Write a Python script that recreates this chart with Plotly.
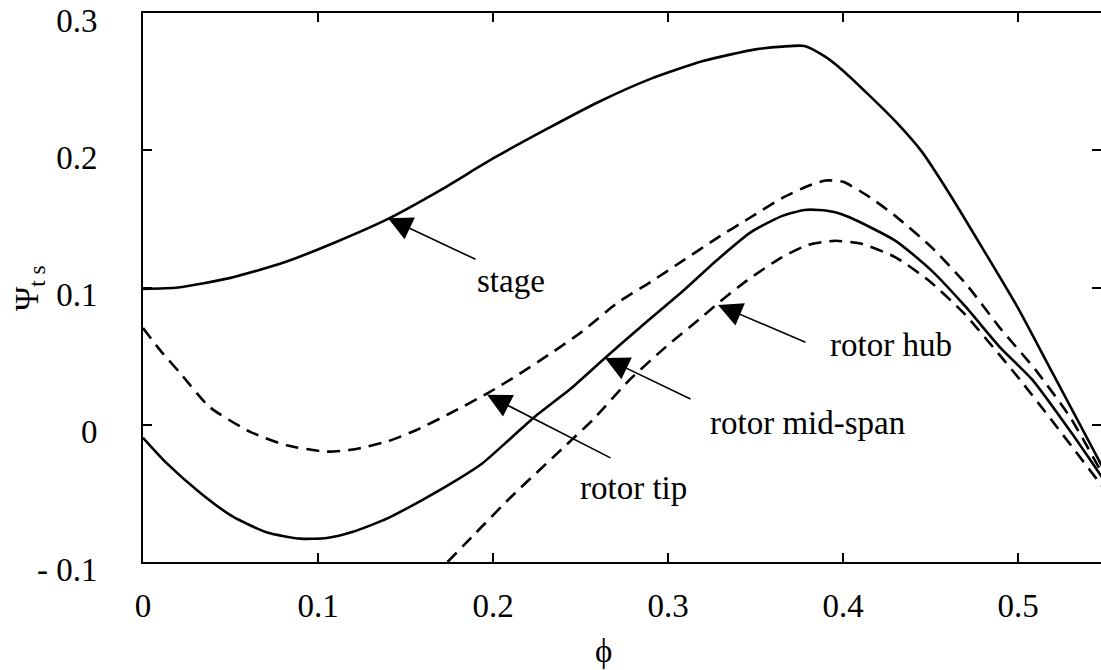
import plotly.graph_objects as go

# Stage and rotor total-to-static loading curves
phi_stage = [0, 0.02, 0.05, 0.08, 0.11, 0.14, 0.17, 0.20, 0.23, 0.26, 0.29, 0.32, 0.35,
             0.365, 0.378, 0.39, 0.40, 0.415, 0.43, 0.445, 0.46, 0.48, 0.50, 0.52, 0.55]
psi_stage = [0.099, 0.100, 0.107, 0.118, 0.133, 0.150, 0.171, 0.194, 0.215, 0.235, 0.252,
             0.265, 0.2735, 0.2755, 0.276, 0.268, 0.258, 0.240, 0.221, 0.199, 0.170, 0.128,
             0.085, 0.037, -0.035]

phi_tip = [0, 0.01, 0.021, 0.038, 0.061, 0.082, 0.105, 0.12, 0.14, 0.156, 0.175, 0.197,
           0.215, 0.233, 0.25, 0.271, 0.29, 0.309, 0.328, 0.347, 0.365, 0.38, 0.39, 0.40,
           0.415, 0.43, 0.45, 0.47, 0.49, 0.51, 0.53, 0.55]
psi_tip = [0.0705, 0.054, 0.038, 0.013, -0.005, -0.015, -0.0196, -0.018, -0.012, -0.004,
           0.008, 0.023, 0.037, 0.052, 0.067, 0.0887, 0.104, 0.12, 0.136, 0.151, 0.165,
           0.174, 0.178, 0.177, 0.166, 0.152, 0.13, 0.103, 0.07, 0.04, 0.005, -0.04]

phi_mid = [0, 0.0135, 0.0326, 0.0514, 0.071, 0.09, 0.105, 0.12, 0.14, 0.16, 0.177, 0.194,
           0.21, 0.223, 0.245, 0.264, 0.285, 0.309, 0.328, 0.347, 0.365, 0.378, 0.386,
           0.395, 0.404, 0.43, 0.45, 0.47, 0.49, 0.508, 0.53, 0.55]
psi_mid = [-0.0095, -0.028, -0.0495, -0.067, -0.0785, -0.083, -0.0825, -0.078, -0.068,
           -0.0545, -0.042, -0.028, -0.01, 0.005, 0.027, 0.0487, 0.072, 0.098, 0.12, 0.14,
           0.152, 0.1565, 0.1565, 0.155, 0.151, 0.134, 0.113, 0.086, 0.056, 0.033, -0.005,
           -0.042]

phi_hub = [0.174, 0.19, 0.21, 0.242, 0.257, 0.278, 0.299, 0.318, 0.329, 0.345, 0.365, 0.38,
           0.395, 0.41, 0.43, 0.45, 0.47, 0.49, 0.501, 0.52, 0.55]
psi_hub = [-0.1, -0.079, -0.053, -0.0145, 0.0036, 0.0327, 0.057, 0.077, 0.089, 0.105, 0.122,
           0.131, 0.134, 0.132, 0.122, 0.104, 0.08, 0.05, 0.033, 0.002, -0.048]

y_ticks = [-0.1, 0, 0.1, 0.2, 0.3]
y_tick_text = ["- 0.1", "0", "0.1", "0.2", "0.3"]
x_ticks = [0, 0.1, 0.2, 0.3, 0.4, 0.5]
x_tick_text = ["0", "0.1", "0.2", "0.3", "0.4", "0.5"]

# label text, label anchor (left, middle), arrow tip, arrow tail
labels = ["stage", "rotor tip", "rotor mid-span", "rotor hub"]
label_pos = [(0.1895, 0.1045), (0.2486, -0.046), (0.3229, 0.0016), (0.3914, 0.0578)]
arrow_tip = [(0.140, 0.1505), (0.1966, 0.0218), (0.264, 0.0487), (0.3286, 0.0873)]
arrow_tail = [(0.1909, 0.120), (0.268, -0.0247), (0.3137, 0.0182), (0.3794, 0.0596)]

FONT = "Liberation Serif"
FS = 33

fig = go.Figure()
curves = [
    (phi_stage, psi_stage, "solid"),
    (phi_tip, psi_tip, "13px,8px"),
    (phi_mid, psi_mid, "solid"),
    (phi_hub, psi_hub, "13px,8px"),
]
for xs, ys, dash in curves:
    fig.add_trace(go.Scatter(x=xs, y=ys, mode="lines",
                             line=dict(color="black", width=2.6, dash=dash,
                                       shape="spline", smoothing=0.6),
                             showlegend=False, hoverinfo="skip"))

for text, (lx, ly), (tx, ty), (ax, ay) in zip(labels, label_pos, arrow_tip, arrow_tail):
    fig.add_annotation(x=tx, y=ty, ax=ax, ay=ay, axref="x", ayref="y",
                       showarrow=True, arrowhead=2, arrowsize=3.0, arrowwidth=1.6,
                       arrowcolor="black", text="")
    fig.add_annotation(x=lx, y=ly, text=text, showarrow=False,
                       xanchor="left", yanchor="middle",
                       font=dict(family=FONT, size=FS, color="black"))

axis_common = dict(
    showgrid=False, zeroline=False, showline=True, linecolor="black", linewidth=2,
    mirror="ticks", ticks="inside", ticklen=9, tickwidth=2, tickcolor="black",
    ticklabeloverflow="allow", automargin=False,
    tickfont=dict(family=FONT, size=FS, color="black"),
)

W, H = 1101, 670
left, top, bottom = 143, 13, 108
plot_w = W - left
plot_h = H - top - bottom

# axis titles, placed by pixel
fig.add_annotation(x=(603 - left) / plot_w, y=(H - bottom - 651) / plot_h,
                   xref="paper", yref="paper", xanchor="center", yanchor="middle",
                   text="ϕ", showarrow=False,
                   font=dict(family=FONT, size=FS, color="black"))
fig.add_annotation(x=(29 - left) / plot_w, y=(H - bottom - 288) / plot_h,
                   xref="paper", yref="paper", xanchor="center", yanchor="middle",
                   text="Ψ<sub>t s</sub>", textangle=-90, showarrow=False,
                   font=dict(family=FONT, size=FS, color="black"))

fig.update_layout(
    width=W, height=H,
    margin=dict(l=left, r=0, t=top, b=bottom),
    paper_bgcolor="white", plot_bgcolor="white",
    xaxis=dict(range=[0, 0.5474], tickvals=x_ticks, ticktext=x_tick_text,
               ticklabelstandoff=13, **axis_common),
    yaxis=dict(range=[-0.1, 0.3], tickvals=y_ticks, ticktext=y_tick_text,
               ticklabelstandoff=37, ticklabelshift=7, **axis_common),
)

# drop the default page margin so the figure sits at the window's top-left corner
fig.write_html("out.html", config={"displayModeBar": False},
               post_script="document.body.style.margin='0';document.body.style.overflow='hidden';")
